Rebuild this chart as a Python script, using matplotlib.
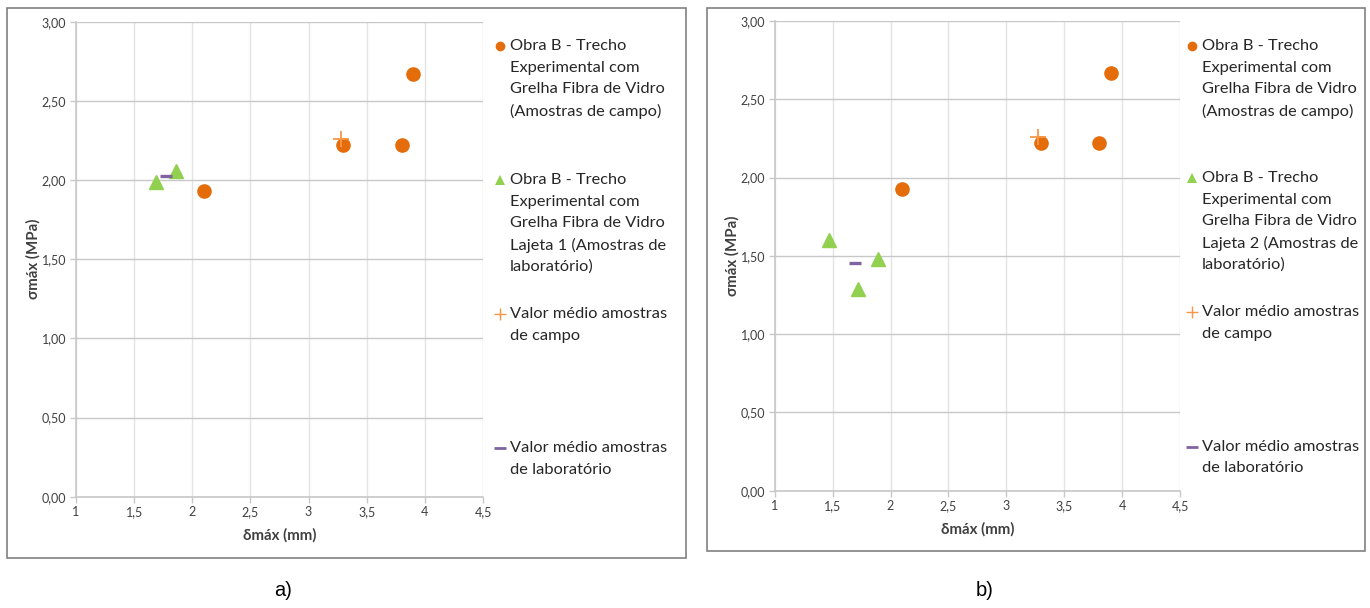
import matplotlib
matplotlib.use("Agg")
import matplotlib.pyplot as plt
from matplotlib.patches import Rectangle

# ---- data -------------------------------------------------------------
# field samples (same in both panels)
campo_x = [2.10, 3.30, 3.80, 3.90]
campo_y = [1.93, 2.22, 2.22, 2.67]

# laboratory samples, slab 1 (panel a) and slab 2 (panel b)
lajeta1_x = [1.69, 1.86]
lajeta1_y = [1.99, 2.06]
lajeta2_x = [1.47, 1.72, 1.89]
lajeta2_y = [1.60, 1.29, 1.48]

x_ticks = [1, 1.5, 2, 2.5, 3, 3.5, 4, 4.5]
x_tick_labels = ["1", "1,5", "2", "2,5", "3", "3,5", "4", "4,5"]
y_ticks = [0.0, 0.5, 1.0, 1.5, 2.0, 2.5, 3.0]
y_tick_labels = ["0,00", "0,50", "1,00", "1,50", "2,00", "2,50", "3,00"]

x_label = "δmáx (mm)"
y_label = "σmáx (MPa)"

legend_a = [
    "Obra B - Trecho\nExperimental com\nGrelha Fibra de Vidro\n(Amostras de campo)",
    "Obra B - Trecho\nExperimental com\nGrelha Fibra de Vidro\nLajeta 1 (Amostras de\nlaboratório)",
    "Valor médio amostras\nde campo",
    "Valor médio amostras\nde laboratório",
]
legend_b = [
    "Obra B - Trecho\nExperimental com\nGrelha Fibra de Vidro\n(Amostras de campo)",
    "Obra B - Trecho\nExperimental com\nGrelha Fibra de Vidro\nLajeta 2 (Amostras de\nlaboratório)",
    "Valor médio amostras\nde campo",
    "Valor médio amostras\nde laboratório",
]
captions = ["a)", "b)"]

# ---- styling ------------------------------------------------------------
C_CAMPO = "#E46C0A"
C_LAB = "#92D050"
C_MEAN_CAMPO = "#F79646"
C_MEAN_LAB = "#8064A2"
FONT = "Lato"

W, H = 1370, 608
fig = plt.figure(figsize=(W / 100, H / 100), dpi=100)

# overlay in pixel coordinates for frames, legends and captions
ov = fig.add_axes([0, 0, 1, 1], zorder=0)
ov.set_xlim(0, W)
ov.set_ylim(H, 0)
ov.axis("off")
ov.patch.set_alpha(0)


def px_axes(left, top, right, bottom):
    return fig.add_axes([left / W, (H - bottom) / H, (right - left) / W, (bottom - top) / H], zorder=2)


def mean(v):
    return sum(v) / len(v)


def draw_panel(ax, lab_x, lab_y):
    ax.set_xlim(1, 4.5)
    ax.set_ylim(0, 3)
    ax.set_xticks(x_ticks)
    ax.set_xticklabels(x_tick_labels)
    ax.set_yticks(y_ticks)
    ax.set_yticklabels(y_tick_labels)
    for s in ("top", "right"):
        ax.spines[s].set_visible(False)
    for s in ("left", "bottom"):
        ax.spines[s].set_color("#C8C8C8")
        ax.spines[s].set_linewidth(1.2)
    ax.tick_params(axis="both", direction="out", length=4, width=1, color="#C8C8C8",
                   labelsize=9, labelcolor="#404040", pad=3)
    for lbl in ax.get_xticklabels() + ax.get_yticklabels():
        lbl.set_fontfamily(FONT)
    ax.set_axisbelow(True)
    ax.grid(axis="y", color="#C8C8C8", linewidth=1.0)
    ax.grid(axis="x", color="#E4E4E4", linewidth=1.0)
    ax.patch.set_alpha(0)

    ax.plot(campo_x, campo_y, "o", color=C_CAMPO, ms=9.5, mec=C_CAMPO, clip_on=False)
    ax.plot(lab_x, lab_y, "^", color=C_LAB, ms=9.5, mec=C_LAB, clip_on=False)
    ax.plot([mean(campo_x)], [mean(campo_y)], "+", color=C_MEAN_CAMPO, ms=11, mew=1.3)
    ax.plot([mean(lab_x)], [mean(lab_y)], "_", color=C_MEAN_LAB, ms=9, mew=2.4)

    ax.set_xlabel(x_label, fontsize=10.8, fontweight="bold", fontfamily=FONT,
                  color="#404040", labelpad=7)
    ax.set_ylabel(y_label, fontsize=10.8, fontweight="bold", fontfamily=FONT,
                  color="#404040", labelpad=1)


def draw_legend(labels, mx, tx, starts, spacing=21.7):
    styles = [
        dict(marker="o", color=C_CAMPO, ms=7, mew=0),
        dict(marker="^", color=C_LAB, ms=7, mew=0),
        dict(marker="+", color=C_MEAN_CAMPO, ms=9, mew=1.0),
        dict(marker="_", color=C_MEAN_LAB, ms=8, mew=2.0),
    ]
    for label, y0, st in zip(labels, starts, styles):
        ov.plot([mx], [y0], linestyle="none", **st)
        for i, line in enumerate(label.split("\n")):
            ov.text(tx, y0 + i * spacing, line, fontsize=11.8, fontfamily=FONT,
                    color="#262626", va="center", ha="left")


# frames
ov.add_patch(Rectangle((7, 8), 679, 550, fill=False, edgecolor="#808080", linewidth=1.2))
ov.add_patch(Rectangle((707, 8), 658, 543, fill=False, edgecolor="#808080", linewidth=1.2))

ax_a = px_axes(76, 21.7, 483, 496.7)
draw_panel(ax_a, lajeta1_x, lajeta1_y)
draw_legend(legend_a, 500, 510, [46, 180, 314, 448])

ax_b = px_axes(774.7, 21, 1180, 490.7)
draw_panel(ax_b, lajeta2_x, lajeta2_y)
draw_legend(legend_b, 1192, 1202, [46, 178, 312, 446.7])

ov.text(283, 591, captions[0], fontsize=14.5, fontfamily="Liberation Sans",
        ha="center", va="center", color="#000000")
ov.text(985, 591, captions[1], fontsize=14.5, fontfamily="Liberation Sans",
        ha="center", va="center", color="#000000")

fig.savefig("out.png", dpi=100)
